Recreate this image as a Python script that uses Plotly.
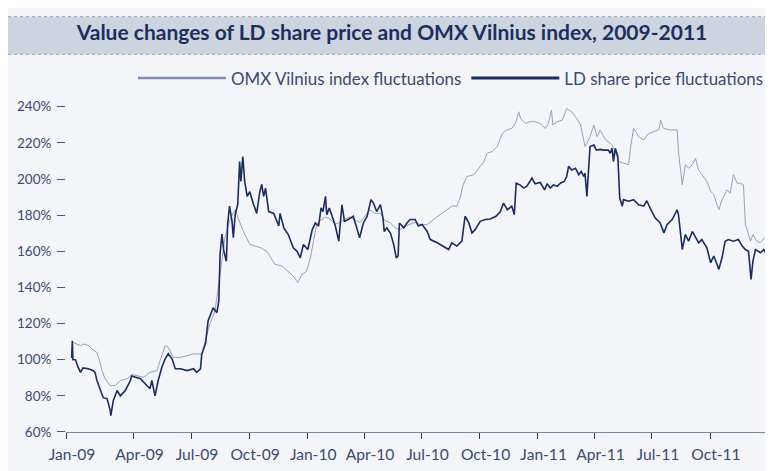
import pandas as pd
import plotly.graph_objects as go

# ---------------- data ----------------
BASE = pd.Timestamp("2009-01-01")

# LD share price fluctuations: days since 1 Jan 2009, value in %
ld_days = [-8, -7, -6, -2, 2, 6, 10, 18, 26, 29, 32, 37, 42, 48, 53, 54, 58, 64, 69, 77,
           85, 87, 101, 111, 116, 119, 124, 129, 135, 140, 145, 151, 156, 164, 175, 185, 190, 196, 198, 204,
           206, 208, 212, 216, 222, 225, 227, 230, 233, 237, 239, 242, 246, 248, 251, 255, 258, 260, 263, 266,
           270, 274, 280, 285, 290, 293, 296, 299, 304, 312, 320, 322, 328, 335, 343, 349, 354, 359, 366, 373,
           378, 383, 387, 390, 394, 396, 400, 404, 409, 415, 417, 420, 424, 430, 438, 444, 448, 454, 460, 466,
           470, 475, 481, 485, 487, 491, 497, 502, 506, 509, 511, 518, 523, 528, 536, 541, 547, 555, 560, 571,
           581, 589, 594, 602, 610, 615, 621, 626, 631, 639, 647, 655, 664, 671, 676, 682, 689, 693, 696, 702,
           708, 713, 721, 726, 734, 741, 745, 750, 755, 761, 766, 772, 776, 779, 784, 790, 795, 799, 803, 805,
           808, 811, 813, 819, 823, 829, 834, 842, 845, 848, 850, 853, 857, 860, 864, 866, 874, 882, 890, 898,
           903, 908, 916, 924, 930, 935, 943, 951, 953, 956, 959, 964, 969, 975, 980, 985, 990, 998, 1004, 1009,
           1014, 1017, 1022, 1027, 1032, 1040, 1048, 1054, 1059, 1064, 1068, 1071, 1075, 1083, 1088, 1093, 1098]
ld_values = [101, 110.5, 100, 100, 96, 93, 95.5, 95, 94, 93, 88.5, 84, 79, 78.5, 72, 69, 77.5, 83, 80, 83,
             88.5, 91, 89.5, 85.7, 84, 88.5, 80, 88.5, 96, 100.5, 103.3, 100.5, 95, 95, 94, 95, 93, 95, 103, 109,
             114, 121.5, 125, 128.7, 126, 132.5, 158.4, 169.5, 160, 154.5, 175, 185, 176.6, 167.5, 180.5, 186, 209.7, 198.7, 212.5, 198.7,
             190.4, 193, 186, 181, 193, 197, 190.4, 195, 182, 181, 174, 181, 173, 169.3, 162, 160, 156.4, 163.8, 161, 172,
             175.7, 174, 184, 182, 190.4, 180.3, 184, 179.4, 174.8, 165.6, 173, 185.8, 176.6, 177.6, 179.4, 173, 167.5, 175.7, 179.4, 188.6,
             186.7, 182, 185.8, 178.5, 171, 173, 170, 163.8, 156.4, 157.4, 175.7, 173, 175.7, 177.6, 177.6, 174, 174.8, 171, 166.5, 164.7,
             162.9, 161, 164.7, 162.9, 165.6, 179.4, 175.7, 170.2, 172, 176.6, 177.6, 177.9, 179.4, 182, 186.7, 183, 185, 180.3, 197.7, 196.8,
             195, 196, 200.5, 197.4, 198.1, 194, 197.4, 195, 196.8, 196, 197.7, 198.7, 201.4, 207, 205, 206, 202.4, 204.2, 201.4, 203.2,
             190.4, 205, 218, 218.8, 216, 216.4, 216, 216, 214.3, 217, 209.7, 217, 212.5, 189.5, 185, 188.6, 187.7, 188.6, 185.8, 185,
             188, 184, 178.5, 175.7, 170.2, 174.8, 177.6, 183, 180.3, 171, 161, 169.3, 165.6, 171, 167.5, 164.7, 166.5, 162, 153.7, 157.4,
             152.8, 150, 156.4, 165.6, 166.5, 165.6, 166.5, 162.9, 161, 160, 144.5, 154.6, 161, 159.2, 161, 158.3, 162.9]

# OMX Vilnius index fluctuations: days since 1 Jan 2009, value in %
omx_days = [-6, 0, 6, 11, 19, 24, 32, 36, 40, 45, 53, 61, 69, 80, 87, 95, 106, 116, 127, 132,
            140, 145, 153, 164, 175, 185, 198, 201, 206, 211, 219, 227, 235, 243, 251, 256, 264, 274, 283, 291,
            301, 314, 325, 335, 343, 350, 357, 364, 370, 375, 380, 386, 394, 401, 409, 417, 425, 433, 441, 449,
            457, 464, 472, 481, 488, 496, 504, 512, 520, 528, 536, 544, 555, 565, 576, 586, 594, 602, 607, 612,
            618, 629, 637, 645, 650, 658, 666, 674, 681, 689, 695, 700, 703, 711, 718, 726, 734, 742, 747, 752,
            754, 761, 769, 776, 784, 792, 798, 803, 805, 808, 813, 819, 824, 829, 837, 848, 853, 858, 866, 874,
            877, 880, 882, 890, 898, 906, 914, 922, 925, 929, 940, 951, 953, 956, 959, 964, 969, 975, 980, 985,
            993, 998, 1004, 1009, 1014, 1017, 1022, 1030, 1035, 1040, 1046, 1051, 1056, 1059, 1061, 1067, 1071, 1077, 1082, 1090,
            1098]
omx_values = [109.6, 108.7, 107.8, 108.7, 107.8, 106, 104, 99.5, 94, 89.4, 85.7, 85.7, 88.5, 89.4, 91.8, 91.2, 90.3, 93, 94, 99.5,
              107.8, 106.8, 101.3, 101.3, 102.2, 103.2, 103.2, 106.8, 114, 120, 127, 148, 168, 178, 183, 178, 171, 163.8, 162.9, 162,
              160, 152.8, 151.9, 149, 146.3, 142.6, 147.3, 149, 156.4, 165.6, 174.8, 177, 179, 178, 175, 176, 178, 179, 177, 176,
              180, 183, 181, 181, 177, 176, 173, 172, 174, 175, 176, 174.8, 174.8, 177.6, 180.3, 183, 185, 185, 189.5, 196.8,
              201.4, 202.4, 206, 209.7, 214.3, 215.2, 218, 225.3, 227.2, 228, 230.8, 237.2, 233.5, 230.8, 231.7, 231.7, 230.8, 228, 230.8, 238.2,
              229.9, 231.7, 232.6, 239, 237.2, 233.5, 229.9, 221.6, 218, 219.8, 223.5, 229.9, 223.5, 227, 222, 218.8, 215.2, 209.7, 208.8, 207.9,
              217, 224.4, 228, 223.5, 221.6, 225.3, 226.2, 227.2, 232.6, 228, 227.2, 227.2, 215.2, 206, 196.8, 207.9, 206, 207.9, 211.5, 205,
              201.4, 198.7, 193.2, 191.4, 185.8, 183, 188.6, 194, 192.2, 202.4, 197.7, 197.7, 196.8, 174.8, 173, 165.6, 169.3, 165.6, 164.7, 167.5,
              167.5]

tick_dates = ["2008-12-15", "2009-04-01", "2009-07-01", "2009-10-01", "2010-01-01", "2010-04-01", "2010-07-01",
              "2010-10-01", "2011-01-01", "2011-04-01", "2011-07-01", "2011-10-01", "2012-01-01"]
tick_labels = ["Jan-09", "Apr-09", "Jul-09", "Oct-09", "Jan-10", "Apr-10", "Jul-10",
               "Oct-10", "Jan-11", "Apr-11", "Jul-11", "Oct-11", ""]
y_ticks = [60, 80, 100, 120, 140, 160, 180, 200, 220, 240]
y_labels = [f"{v}%" for v in y_ticks]

title_text = "Value changes of LD share price and OMX Vilnius index, 2009-2011"
omx_name = "OMX Vilnius index fluctuations"
ld_name = "LD share price fluctuations"

# ---------------- figure ----------------
# the page body has an 8px margin, so the figure is placed 8px right/down
OFF = 8
W, H = 773 - OFF, 471 - OFF
ML, MR, MT, MB = 66 - OFF, 3, 103 - OFF, 39
PW, PH = W - ML - MR, H - MT - MB


def px_x(p):  # reference pixel -> paper x
    return (p - OFF - ML) / PW


def px_y(p):  # reference pixel -> paper y
    return (H - MB - (p - OFF)) / PH


ld_x = [BASE + pd.Timedelta(days=d) for d in ld_days]
omx_x = [BASE + pd.Timedelta(days=d) for d in omx_days]

NAVY = "#1b2d5c"
GREYBLUE = "#95a2b8"
TEXT = "#3b4b6e"

fig = go.Figure()
fig.add_trace(go.Scatter(x=omx_x, y=omx_values, mode="lines", name=omx_name,
                         line=dict(color=GREYBLUE, width=1), showlegend=False))
fig.add_trace(go.Scatter(x=ld_x, y=ld_values, mode="lines", name=ld_name,
                         line=dict(color=NAVY, width=1.6), showlegend=False))
# legend entries (thicker samples as in the reference)
fig.add_trace(go.Scatter(x=[None], y=[None], mode="lines", name=omx_name,
                         line=dict(color="#7f8eaa", width=2.5)))
fig.add_trace(go.Scatter(x=[None], y=[None], mode="lines", name=ld_name,
                         line=dict(color=NAVY, width=3)))

shapes = [
    dict(type="rect", xref="paper", yref="paper", x0=px_x(OFF), x1=px_x(773), y0=px_y(51), y1=px_y(13),
         fillcolor="#cdd4df", line=dict(width=0), layer="below"),
    dict(type="line", xref="paper", yref="paper", x0=px_x(OFF), x1=px_x(773), y0=px_y(13), y1=px_y(13),
         line=dict(color="#9aa3b4", width=1, dash="dot")),
    dict(type="line", xref="paper", yref="paper", x0=px_x(OFF), x1=px_x(773), y0=px_y(51), y1=px_y(51),
         line=dict(color="#9aa3b4", width=1, dash="dot")),
]

fig.update_layout(
    width=W, height=H,
    margin=dict(l=ML, r=MR, t=MT, b=MB, pad=0),
    paper_bgcolor="#f3f5f9",
    plot_bgcolor="rgba(0,0,0,0)",
    font=dict(family="Lato, sans-serif", color=TEXT),
    title=dict(text=title_text, x=px_x(392), xref="paper", xanchor="center",
               y=1 - (33 - OFF) / H, yref="container", yanchor="middle",
               font=dict(family="Lato, sans-serif", size=21, color="#1c2f5e", weight="bold")),
    shapes=shapes,
    showlegend=True,
    legend=dict(orientation="h", xref="container", yref="container",
                x=(769 - OFF) / W, xanchor="right", y=1 - (78 - OFF) / H, yanchor="middle",
                bgcolor="rgba(0,0,0,0)", itemwidth=88, traceorder="normal",
                font=dict(size=16.9, color=TEXT)),
    xaxis=dict(type="date", range=["2008-12-15", "2012-01-04"],
               tickmode="array", tickvals=tick_dates, ticktext=tick_labels,
               ticks="outside", ticklen=6, tickwidth=1, tickcolor="#2b3b62",
               showline=True, linecolor="#7a89a4", linewidth=1,
               showgrid=False, zeroline=False,
               ticklabelshift=6, ticklabelstandoff=2,
               tickfont=dict(size=15.6, color=TEXT)),
    yaxis=dict(range=[60, 240.5], tickmode="array", tickvals=y_ticks, ticktext=y_labels,
               ticks="outside", ticklen=8, tickwidth=1, tickcolor="#4a5878",
               showline=False, showgrid=False, zeroline=False,
               ticklabelstandoff=3,
               tickfont=dict(size=13.5, color=TEXT)),
)

fig.write_html("out.html")
